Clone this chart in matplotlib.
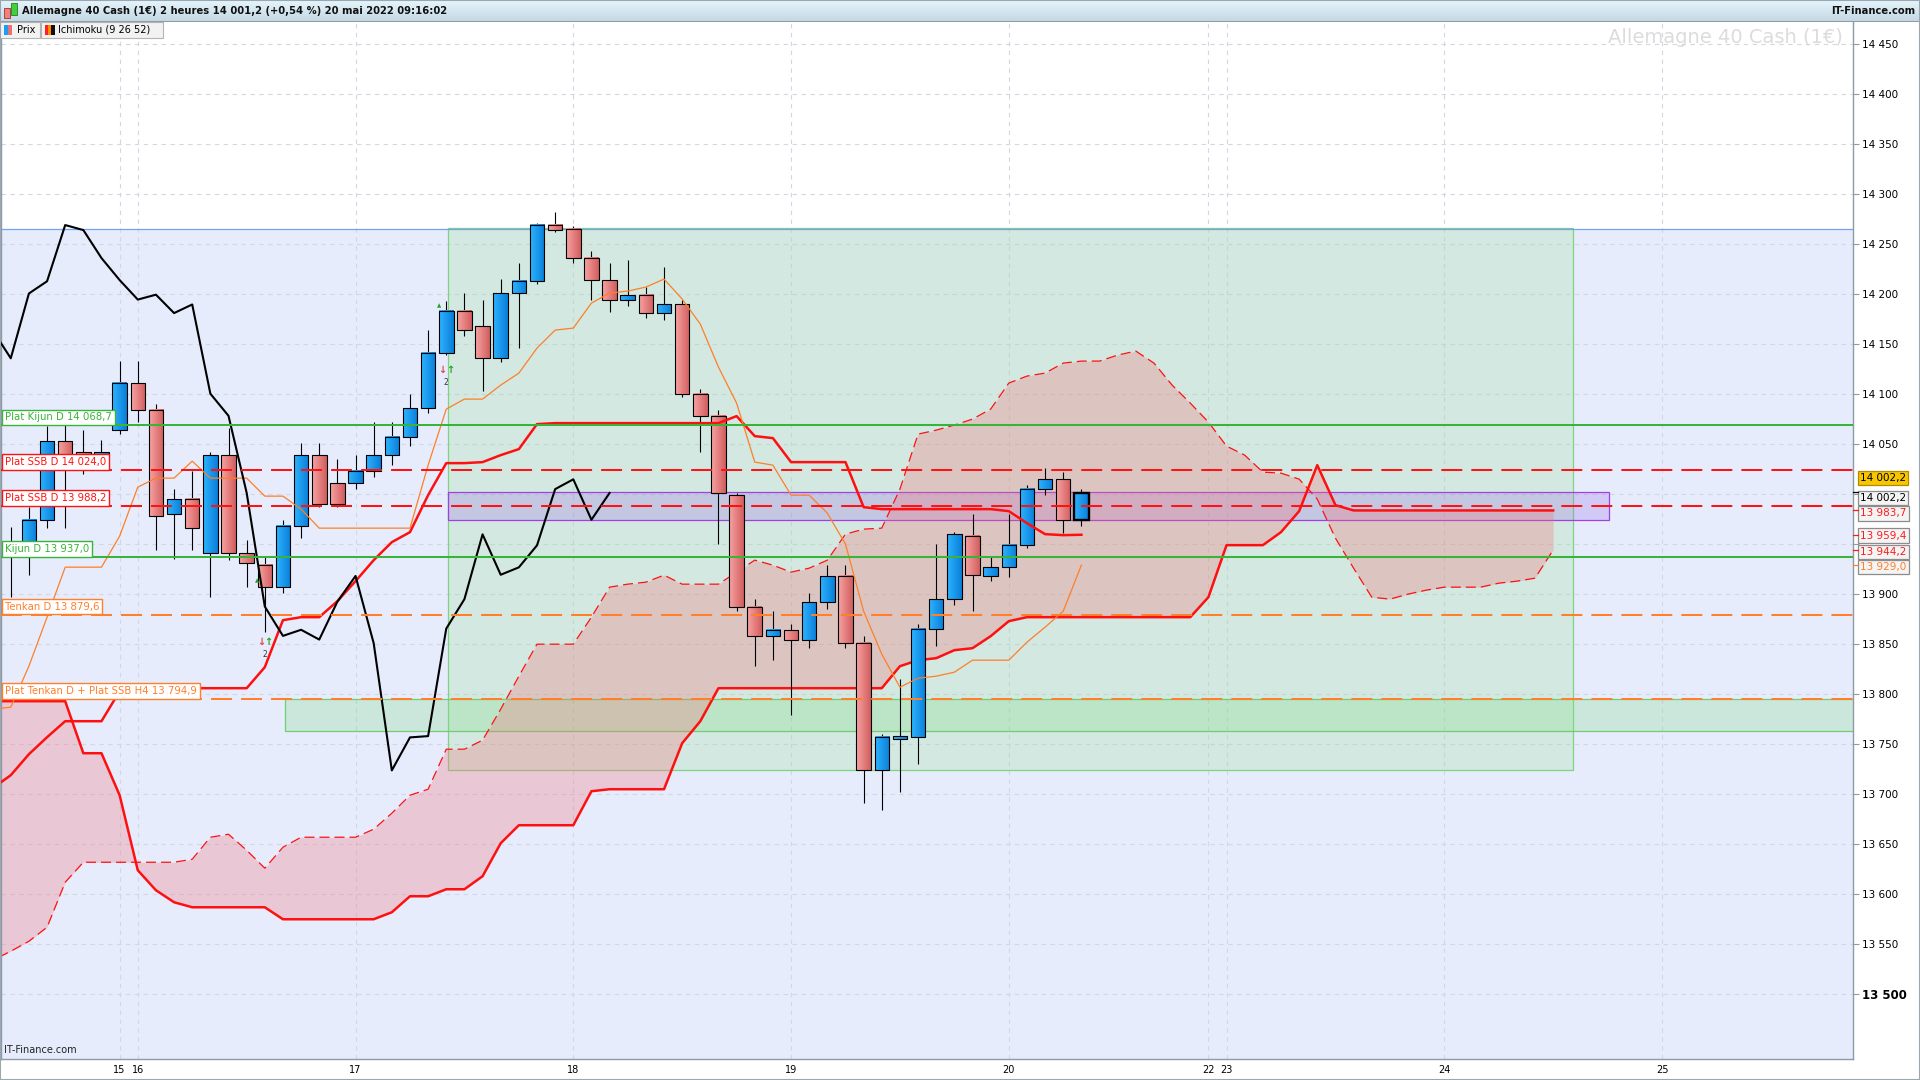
import matplotlib
matplotlib.use("Agg")
import matplotlib.pyplot as plt
import matplotlib.transforms as mtransforms
from matplotlib.colors import LinearSegmentedColormap
from matplotlib.patches import Rectangle
import numpy as np

# ---------------- data (2-hour candles, index 0 = first visible candle)
opens = [13937.8, 13950.0, 13974.4, 14052.7, 14041.7, 14039.2, 14063.7, 14111.4, 14084.5, 13980.5,
         13995.2, 13941.4, 14039.2, 13941.4, 13929.2, 13907.2, 13968.3, 14039.2, 14011.1, 14011.1,
         14023.3, 14039.2, 14057.6, 14085.7, 14140.7, 14183.5, 14167.6, 14135.8, 14200.6, 14212.8,
         14269.0, 14265.4, 14236.0, 14214.0, 14194.5, 14199.4, 14181.0, 14189.6, 14100.4, 14078.3,
         13998.9, 13887.6, 13858.3, 13864.4, 13854.6, 13892.5, 13918.2, 13851.0, 13723.8, 13755.6,
         13756.8, 13865.6, 13895.0, 13958.5, 13918.2, 13926.8, 13948.8, 14005.0, 14014.8, 13974.4]
highs = [13967.1, 13986.7, 14068.6, 14069.8, 14063.7, 14053.9, 14133.4, 14133.4, 14090.6, 14005.0,
         14023.3, 14041.7, 14066.1, 13953.7, 13937.8, 13974.4, 14051.5, 14051.5, 14035.6, 14039.2,
         14072.2, 14072.2, 14100.4, 14164.0, 14193.3, 14200.6, 14194.5, 14215.3, 14231.0, 14271.5,
         14282.5, 14268.0, 14243.4, 14231.0, 14233.6, 14206.7, 14227.5, 14194.5, 14105.2, 14084.5,
         14001.3, 13895.0, 13882.7, 13870.5, 13901.1, 13929.2, 13929.2, 13858.3, 13760.5, 13815.5,
         13870.5, 13950.0, 13962.2, 13980.5, 13937.8, 13980.5, 14008.7, 14025.8, 14022.1, 14005.0]
lows = [13897.4, 13919.4, 13965.9, 13965.9, 14019.7, 14029.4, 14060.0, 14072.2, 13943.9, 13935.3,
        13943.9, 13897.4, 13934.1, 13907.2, 13862.0, 13901.1, 13956.1, 13986.7, 13986.7, 14005.0,
        14017.2, 14029.4, 14047.8, 14080.8, 14139.5, 14157.8, 14102.8, 14132.0, 14145.6, 14210.4,
        14262.0, 14231.0, 14194.5, 14182.3, 14188.4, 14176.0, 14173.7, 14096.7, 14041.7, 13950.0,
        13882.7, 13827.7, 13833.8, 13778.8, 13846.1, 13885.2, 13846.1, 13690.8, 13684.7, 13701.8,
        13729.9, 13848.5, 13888.9, 13882.7, 13913.3, 13917.0, 13946.3, 13998.9, 13961.0, 13968.3]
closes = [13950.0, 13974.4, 14052.7, 14031.9, 14039.2, 14041.7, 14111.4, 14084.5, 13978.1, 13995.2,
          13965.9, 14039.2, 13941.4, 13931.6, 13907.2, 13968.3, 14039.2, 13990.3, 13990.3, 14023.3,
          14039.2, 14057.6, 14085.7, 14140.7, 14183.5, 14164.0, 14135.8, 14200.6, 14212.8, 14269.0,
          14264.0, 14236.0, 14214.0, 14194.5, 14199.4, 14181.0, 14189.6, 14100.4, 14078.3, 14001.3,
          13887.6, 13858.3, 13864.4, 13854.6, 13892.5, 13918.2, 13851.0, 13723.8, 13756.8, 13758.1,
          13865.6, 13895.0, 13959.8, 13919.4, 13926.8, 13948.8, 14005.0, 14014.8, 13974.4, 14001.2]

# Ichimoku lines, first value is one candle before index 0
tenkan = [13785, 13787, 13828, 13877, 13927, 13927, 13927, 13958, 14007, 14016,
          14016, 14033, 14016, 14016, 14016, 13998, 13998, 13985, 13966, 13966,
          13966, 13966, 13966, 13966, 14029, 14085, 14095, 14095, 14109, 14121,
          14146, 14164, 14166, 14191, 14201, 14203, 14207, 14215, 14195, 14170,
          14127, 14091, 14032, 14029, 13999, 13999, 13981, 13950, 13883, 13840,
          13807, 13816, 13818, 13822, 13834, 13834, 13834, 13852, 13867, 13883, 13929.0]
kijun = [13706, 13719, 13740, 13757, 13773, 13773, 13773, 13803, 13806, 13806,
         13806, 13806, 13806, 13806, 13806, 13827, 13874, 13877, 13877, 13893,
         13913, 13934, 13952, 13962, 13999, 14031, 14031, 14032, 14039, 14045,
         14070, 14071, 14071, 14071, 14071, 14071, 14071, 14071, 14071, 14071,
         14071, 14078, 14058, 14056, 14032, 14032, 14032, 14032, 13987, 13985,
         13985, 13985, 13985, 13985, 13985, 13985, 13983, 13971, 13960, 13959, 13959.4]
# cloud (already shifted 26 candles forward)
ssa = [13534, 13543, 13553, 13567, 13612, 13632, 13632, 13632, 13632, 13632,
       13632, 13635, 13657, 13660, 13644, 13626, 13647, 13657, 13657, 13657,
       13657, 13665, 13681, 13699, 13705, 13745, 13745, 13754, 13785, 13818,
       13850, 13850, 13850, 13877, 13907, 13910, 13912, 13919, 13910, 13910,
       13910, 13922, 13934, 13929, 13922, 13926, 13934, 13960, 13965, 13966,
       14005, 14060, 14064, 14069, 14075, 14085, 14111, 14118, 14121, 14131,
       14133, 14133, 14139, 14143, 14131, 14109, 14091, 14072, 14048, 14039,
       14022, 14021, 14015, 13995, 13956, 13926, 13897, 13895, 13900, 13904,
       13907, 13907, 13907, 13911, 13913, 13916, 13944.2]
ssb = [13793, 13793, 13793, 13793, 13793, 13741, 13741, 13699, 13624, 13604,
       13592, 13587, 13587, 13587, 13587, 13587, 13575, 13575, 13575, 13575,
       13575, 13575, 13582, 13598, 13598, 13605, 13605, 13618, 13651, 13669,
       13669, 13669, 13669, 13703, 13705, 13705, 13705, 13705, 13751, 13773,
       13806, 13806, 13806, 13806, 13806, 13806, 13806, 13806, 13806, 13806,
       13828, 13834, 13836, 13844, 13846, 13858, 13873, 13877, 13877, 13877,
       13877, 13877, 13877, 13877, 13877, 13877, 13877, 13897, 13949, 13949,
       13949, 13962, 13983, 14029, 13989, 13983.7, 13983.7, 13983.7, 13983.7, 13983.7,
       13983.7, 13983.7, 13983.7, 13983.7, 13983.7, 13983.7, 13983.7]

day_ticks = [6, 7, 19, 31, 43, 55, 66, 67, 79, 91]
day_labels = ["15", "16", "17", "18", "19", "20", "22", "23", "24", "25"]
price_ticks = list(range(13500, 14451, 50))

level_prices = [14068.7, 14024.0, 13988.2, 13937.0, 13879.6, 13794.9]
level_names = ["Plat Kijun D 14 068,7", "Plat SSB D 14 024,0", "Plat SSB D 13 988,2",
               "Kijun D 13 937,0", "Tenkan D 13 879,6", "Plat Tenkan D + Plat SSB H4 13 794,9"]

blue_zone_top = 14265.4
green_zone_k = [24.1, 86.1]
green_zone_price = [13723.8, 14266.0]
band_zone_k = [15.1, 103.0]
band_zone_price = [13763.0, 13794.8]
purple_zone_k = [24.1, 88.1]
purple_zone_price = [13974.4, 14002.6]

tag_values = [14002.2, 14002.2, 13983.7, 13959.4, 13944.2, 13929.0]
signal_k = [14, 24]
signal_price = [13852, 14124]
hint_k = [13.6, 23.6]
hint_price = [13913, 14188]

title = "Allemagne 40 Cash (1€) 2 heures 14 001,2 (+0,54 %) 20 mai 2022 09:16:02"


def fr(v):
    s = f"{v:,.1f}".replace(",", " ").replace(".", ",")
    return s


# ---------------- figure / axes
W, H = 1920, 1080
ax_r, ax_t, ax_b = 1852.6, 22, 1059.3
fig = plt.figure(figsize=(19.2, 10.8), dpi=100)
fig.patch.set_facecolor("white")
ax = fig.add_axes([0.0005, 1 - ax_b / H, ax_r / W - 0.0005, (ax_b - ax_t) / H])
ax.set_facecolor("white")
xlim = (-0.54, 101.5)
ylim = (13435, 14472)

ax.axhspan(ylim[0], blue_zone_top, color="#e6ecfc", zorder=0, lw=0)
ax.axhline(blue_zone_top, color="#74a3f2", lw=0.9, zorder=1.2)

ax.set_axisbelow(True)
ax.set_yticks(price_ticks)
ax.set_xticks(day_ticks)
ax.grid(True, color="#d2d7e3", lw=0.8, ls=(0, (4, 4)))

# zones
ax.add_patch(Rectangle((green_zone_k[0], green_zone_price[0]), green_zone_k[1] - green_zone_k[0],
                       green_zone_price[1] - green_zone_price[0], fc=(0.55, 0.86, 0.51, 0.22),
                       ec="#7fd47f", lw=0.9, zorder=1))
ax.add_patch(Rectangle((band_zone_k[0], band_zone_price[0]), band_zone_k[1] - band_zone_k[0],
                       band_zone_price[1] - band_zone_price[0], fc=(0.5, 0.85, 0.5, 0.26),
                       ec="#6fcf6f", lw=0.9, zorder=1))
ax.add_patch(Rectangle((purple_zone_k[0], purple_zone_price[0]), purple_zone_k[1] - purple_zone_k[0],
                       purple_zone_price[1] - purple_zone_price[0], fc=(0.6, 0.4, 0.9, 0.25),
                       ec="#a43ee0", lw=0.9, zorder=1.1))

# cloud
xc = np.arange(len(ssa)) - 1
ax.fill_between(xc, ssa, ssb, color=(0.96, 0.45, 0.48), alpha=0.3, lw=0, zorder=1.5)
ax.plot(xc, ssb, color="#ff1010", lw=1.8, zorder=2)
ax.plot(xc, ssa, color="#ff1010", lw=0.9, ls=(0, (8, 4)), zorder=2)

# candles
cmap_up = LinearSegmentedColormap.from_list("up", ["#2db4ff", "#0a7ed9"])
cmap_dn = LinearSegmentedColormap.from_list("dn", ["#f7a3a3", "#d25e5e"])
grad = np.linspace(0, 1, 32).reshape(1, -1)
bw = 0.8
last = len(opens) - 1
for k, (o, h, l, c) in enumerate(zip(opens, highs, lows, closes)):
    ax.vlines(k, l, h, color="black", lw=0.8, zorder=2.9)
    lo, hi = min(o, c), max(o, c)
    if hi - lo < 1.5:
        hi = lo + 1.5
    ax.imshow(grad, cmap=cmap_up if c >= o else cmap_dn, extent=[k - bw / 2, k + bw / 2, lo, hi],
              aspect="auto", zorder=3, interpolation="bilinear")
    ax.add_patch(Rectangle((k - bw / 2, lo), bw, hi - lo, fill=False, ec="black",
                           lw=1.7 if k == last else 0.8, zorder=3.1))

# ichimoku lines
xk = np.arange(len(kijun)) - 1
ax.plot(xk, kijun, color="#ff1010", lw=1.8, zorder=4)
ax.plot(xk, tenkan, color="#ff7f27", lw=0.9, zorder=4)
ax.plot(np.arange(len(closes)) - 26, closes, color="black", lw=1.5, zorder=4.1)

# signals
for k, p in zip(signal_k, signal_price):
    ax.text(k - 0.2, p, "↓", color="#e04848", fontsize=7, fontweight="bold", ha="center", va="center", zorder=5)
    ax.text(k + 0.2, p, "↑", color="#1fa51f", fontsize=7, fontweight="bold", ha="center", va="center", zorder=5)
    ax.text(k, p - 12, "2", color="#333333", fontsize=5.5, ha="center", va="center", zorder=5)
for k, p in zip(hint_k, hint_price):
    ax.text(k, p, "▲", color="#1fa51f", fontsize=4, ha="center", va="center", zorder=5)

# horizontal levels with their labels
level_colors = ["#38b438", "#ff1212", "#ff1212", "#38b438", "#ff7f2a", "#ff7f2a"]
level_dashed = [False, True, True, False, True, True]
tr_lab = mtransforms.blended_transform_factory(ax.transAxes, ax.transData)
for p, name, col, dsh in zip(level_prices, level_names, level_colors, level_dashed):
    ax.axhline(p, color=col, lw=1.45, ls=(0, (10.4, 4.5)) if dsh else "-", zorder=5)
    ax.text(0.0022, p + 3.0, name, transform=tr_lab, fontsize=7.3, color=col, ha="left", va="bottom",
            zorder=6, bbox=dict(boxstyle="square,pad=0.28", fc="white", ec=col, lw=1.0))

ax.text(0.9948, 0.9855, "Allemagne 40 Cash (1€)", transform=ax.transAxes, ha="right", va="center",
        fontsize=14, color="#dcdcdc", zorder=1.3)
ax.text(0.0015, 0.004, "IT-Finance.com", transform=ax.transAxes, ha="left", va="bottom",
        fontsize=7, color="#222222", zorder=6)

ax.set_xlim(*xlim)
ax.set_ylim(*ylim)

# axes styling
ax.yaxis.tick_right()
ylabels = [f"{v:,}".replace(",", " ") for v in price_ticks]
ylabels = ["" if v in (13950, 14000) else s for v, s in zip(price_ticks, ylabels)]
ax.set_yticklabels(ylabels)
ax.tick_params(axis="y", direction="out", length=4, pad=3, labelsize=7.5, color="#8e9aa6")
ax.get_yticklabels()[0].set_fontsize(8.5)
ax.get_yticklabels()[0].set_fontweight("bold")
ax.set_xticklabels(day_labels)
ax.tick_params(axis="x", length=0, pad=4, labelsize=7)
for side in ("left", "right", "bottom"):
    ax.spines[side].set_color("#8e9aa6")
    ax.spines[side].set_linewidth(1.0)
ax.spines["top"].set_visible(False)

# right price tags
tr_tag = mtransforms.blended_transform_factory(fig.transFigure, ax.transData)
tag_shift = [14, -6, -3, -1, -2, -2]
tag_style = [("black", "#f7c600", "#b08c00"), ("black", "#f4f4f4", "#8c8c8c"),
             ("#ff1a1a", "#f4f4f4", "#8c8c8c"), ("#ff1a1a", "#f4f4f4", "#8c8c8c"),
             ("#ff1a1a", "#f4f4f4", "#8c8c8c"), ("#ff7f2a", "#f4f4f4", "#8c8c8c")]
for i, (v, s, (fg, bg, ec)) in enumerate(zip(tag_values, tag_shift, tag_style)):
    ax.text(1860 / W, v + s, fr(v), transform=tr_tag, fontsize=7.5, color=fg, ha="left", va="center",
            clip_on=False, zorder=12, bbox=dict(boxstyle="square,pad=0.22", fc=bg, ec=ec, lw=0.9))
    if i > 0:
        ax.plot([ax_r / W, 1858 / W], [v, v], transform=tr_tag, color=fg, lw=0.9, clip_on=False, zorder=12)

# header bar
hax = fig.add_axes([0, 1 - 22 / H, 1, 22 / H])
hax.imshow(np.linspace(0, 1, 20).reshape(-1, 1), aspect="auto", extent=[0, 1, 0, 1],
           cmap=LinearSegmentedColormap.from_list("h", ["#e6f5fc", "#c3d7e3"]))
hax.set_xlim(0, 1)
hax.set_ylim(0, 1)
hax.axis("off")
hax.axhline(0.02, color="#8c9aa4", lw=1.4)
hax.add_patch(Rectangle((4 / W, 0.18), 6 / W, 0.45, fc="#f08080", ec="#a03030", lw=0.6))
hax.add_patch(Rectangle((11 / W, 0.3), 6 / W, 0.55, fc="#40d040", ec="#208020", lw=0.6))
hax.text(22 / W, 0.5, title, fontsize=7.2, fontweight="bold", va="center", ha="left", color="#111111")
hax.text(1915 / W, 0.5, "IT-Finance.com", fontsize=7.2, fontweight="bold", va="center", ha="right",
         color="#111111")

# legend chips
for x, w in ((0, 40), (41, 122)):
    fig.add_artist(Rectangle((x / W, 1 - 38 / H), w / W, 16 / H, transform=fig.transFigure,
                             fc="#f2f2f2", ec="#b4b4b4", lw=0.8, zorder=10))
chips = [((4, "#1a9ef5"), (8, "#ef7070")), ((45, "#ff2020"), (48, "#ff8c00"), (51, "#111111"))]
for group in chips:
    for x, col in group:
        fig.add_artist(Rectangle((x / W, 1 - 35 / H), 4 / W, 10 / H, transform=fig.transFigure,
                                 fc=col, lw=0, zorder=11))
fig.text(17 / W, 1 - 30 / H, "Prix", fontsize=7, va="center", ha="left", zorder=12)
fig.text(58 / W, 1 - 30 / H, "Ichimoku (9 26 52)", fontsize=7, va="center", ha="left", zorder=12)

fig.add_artist(Rectangle((0, 0), 1, 1, transform=fig.transFigure, fill=False, ec="#9aa6b0", lw=1.5, zorder=20))

fig.savefig("out.png", dpi=100)
